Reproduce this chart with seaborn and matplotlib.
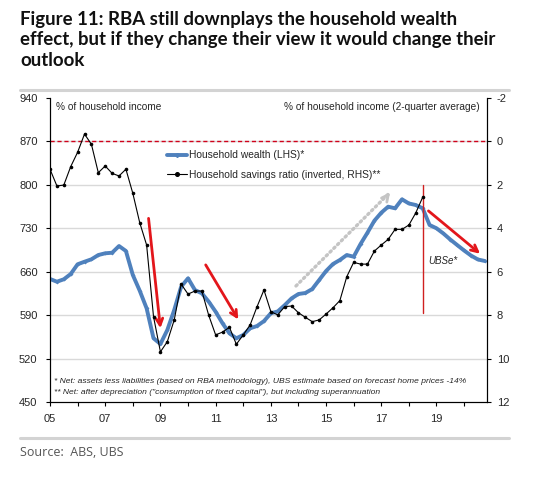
import numpy as np
import pandas as pd
import matplotlib
matplotlib.use("Agg")
import matplotlib.pyplot as plt
from matplotlib.lines import Line2D
import seaborn as sns

# --- données (trimestriel, 2005T1 -> 2020T4) ---
quarters = 2005 + np.arange(64) / 4

wealth = [648.3, 643.9, 647.8, 656.3, 672.0, 676.1, 680.0, 686.9, 689.7, 690.6,
          701.4, 693.4, 654.7, 629.4, 601.0, 552.7, 543.5, 566.1, 598.3, 635.8,
          649.4, 630.5, 625.2, 611.7, 595.5, 576.8, 560.7, 552.7, 558.0, 568.8,
          572.5, 580.4, 593.0, 596.0, 606.0, 617.0, 624.1, 625.7, 632.1, 646.6,
          661.1, 672.4, 678.9, 686.9, 684.2, 704.7, 722.9, 742.2, 755.1, 764.8,
          762.2, 776.7, 770.0, 767.5, 762.2, 735.3, 730.0, 721.6, 711.9, 703.0,
          694.2, 686.1, 679.7, 677.3]

savings = [1.28, 2.05, 2.01, 1.16, 0.50, -0.34, 0.13, 1.44, 1.13, 1.47,
           1.59, 1.28, 2.39, 3.74, 4.77, 8.07, 9.69, 9.22, 8.22, 6.57,
           7.03, 6.89, 6.89, 8.01, 8.91, 8.78, 8.56, 9.34, 8.91, 8.45,
           7.61, 6.84, 7.84, 7.99, 7.61, 7.58, 7.89, 8.10, 8.30, 8.22,
           7.95, 7.66, 7.33, 6.23, 5.57, 5.65, 5.65, 5.05, 4.77, 4.51,
           4.05, 4.05, 3.85, 3.29, 2.57]

left_ticks = [450, 520, 590, 660, 730, 800, 870, 940]
right_ticks = [-2, 0, 2, 4, 6, 8, 10, 12]
year_ticks = [2005, 2007, 2009, 2011, 2013, 2015, 2017, 2019]
year_labels = ["05", "07", "09", "11", "13", "15", "17", "19"]

# flèches (début -> fin, en coordonnées du graphique)
red_arrows = [((2008.57, 746), (2009.0, 569)),
              ((2010.64, 671), (2011.82, 583)),
              ((2018.71, 758), (2020.58, 689))]
grey_arrow = ((2013.91, 637), (2017.32, 788))
forecast_start = 2018.5

df_w = pd.DataFrame({"year": quarters, "wealth": wealth})
df_s = pd.DataFrame({"year": quarters[:len(savings)], "savings": savings})

# --- style ---
sns.set_style("white")
plt.rcParams["font.family"] = ["Liberation Sans", "DejaVu Sans"]
plt.rcParams["axes.unicode_minus"] = False

blue = "#4F81BD"
red = "#E3161B"

fig = plt.figure(figsize=(5.4, 4.82), dpi=100)
ax = fig.add_axes([50 / 540, 1 - 402 / 482, 437 / 540, 304 / 482])
ax2 = ax.twinx()

# grille horizontale
for t in left_ticks[1:-1]:
    ax.axhline(t, color="#D9D9D9", lw=1, zorder=0)
ax.axhline(870, color="#D0021B", lw=1, ls=(0, (3, 2)), zorder=1)

sns.lineplot(data=df_w, x="year", y="wealth", ax=ax, color=blue, lw=2.8,
             marker="D", markersize=2, markeredgewidth=0, zorder=3,
             label="Household wealth (LHS)*", legend=False)
sns.lineplot(data=df_s, x="year", y="savings", ax=ax2, color="black", lw=0.8,
             marker="o", markersize=2.6, markeredgewidth=0, zorder=3,
             label="Household savings ratio (inverted, RHS)**", legend=False)

ax.set_xlim(2005, 2020.83)
ax.set_ylim(450, 940)
ax2.set_ylim(12, -2)
ax.set_yticks(left_ticks)
ax2.set_yticks(right_ticks)
ax.set_xticks(year_ticks)
ax.set_xticklabels(year_labels)
ax.set_xticks(range(2005, 2021), minor=True)
ax.set_xlabel("")
ax.set_ylabel("")
ax2.set_ylabel("")

for a in (ax, ax2):
    a.tick_params(axis="both", which="both", labelsize=8, length=3, width=0.8,
                  color="black", direction="out")
    for s in a.spines.values():
        s.set_color("black")
        s.set_linewidth(0.8)
    a.spines["top"].set_visible(False)
ax.tick_params(axis="x", which="both", bottom=True, pad=6)
ax.tick_params(axis="y", left=True, pad=6)
ax2.tick_params(axis="y", right=True, pad=4)

# prévision
ax.plot([forecast_start, forecast_start], [800, 594], color="#D02020", lw=1, zorder=4)
ax.text(2018.72, 677, "UBSe*", fontsize=7, style="italic", va="center", ha="left")

for (x0, y0), (x1, y1) in red_arrows:
    ax.annotate("", xy=(x1, y1), xytext=(x0, y0),
                arrowprops=dict(arrowstyle="->", color=red, lw=2, mutation_scale=12,
                                shrinkA=0, shrinkB=0), zorder=5)
(gx0, gy0), (gx1, gy1) = grey_arrow
ax.annotate("", xy=(gx1, gy1), xytext=(gx0, gy0),
            arrowprops=dict(arrowstyle="-", color="#C4C4C4", lw=2.4, ls=(0, (0.5, 1.1)),
                            capstyle="round", shrinkA=0, shrinkB=0), zorder=2)
ax.annotate("", xy=(gx1, gy1), xytext=(gx1 - 0.12, gy1 - 7),
            arrowprops=dict(arrowstyle="->", color="#C4C4C4", lw=2.0, mutation_scale=12,
                            shrinkA=0, shrinkB=0), zorder=2)

# textes dans le graphique
ax.text(0.014, 0.971, "% of household income", transform=ax.transAxes,
        fontsize=7.3, va="center", ha="left")
ax.text(0.984, 0.971, "% of household income (2-quarter average)", transform=ax.transAxes,
        fontsize=7.3, va="center", ha="right")
ax.text(0.009, 0.069, "* Net: assets less liabilities (based on RBA methodology), UBS estimate "
        "based on forecast home prices -14%", transform=ax.transAxes,
        fontsize=6.1, style="italic", va="center", ha="left")
ax.text(0.009, 0.031, "** Net: after depreciation (\"consumption of fixed capital\"), "
        "but including superannuation", transform=ax.transAxes,
        fontsize=6.1, style="italic", va="center", ha="left")

handles = [Line2D([], [], color=blue, lw=2.8, marker="D", markersize=2),
           Line2D([], [], color="black", lw=0.8, marker="o", markersize=2.6)]
ax2.legend(handles, ["Household wealth (LHS)*", "Household savings ratio (inverted, RHS)**"],
           loc="upper left", bbox_to_anchor=(0.255, 0.845), frameon=False,
           fontsize=7.4, handlelength=2.0, handletextpad=0.15, borderpad=0,
           labelspacing=0.9)

# titre, séparateurs, source
fig.text(20 / 540, 1 - 11 / 482,
         "Figure 11: RBA still downplays the household wealth\n"
         "effect, but if they change their view it would change their\n"
         "outlook", fontsize=13.4, fontweight="bold", family=["Lato", "DejaVu Sans"],
         va="top", ha="left", linespacing=1.25, color="#111111")
for yy in (90, 438):
    fig.add_artist(Line2D([20 / 540, 509 / 540], [1 - yy / 482] * 2,
                          color="#D3D3D3", lw=2.2))
fig.text(20 / 540, 1 - 452 / 482, "Source:  ABS, UBS", fontsize=9,
         family=["Open Sans", "DejaVu Sans"], color="#555555", va="center", ha="left")

fig.savefig("out.png", dpi=100)
